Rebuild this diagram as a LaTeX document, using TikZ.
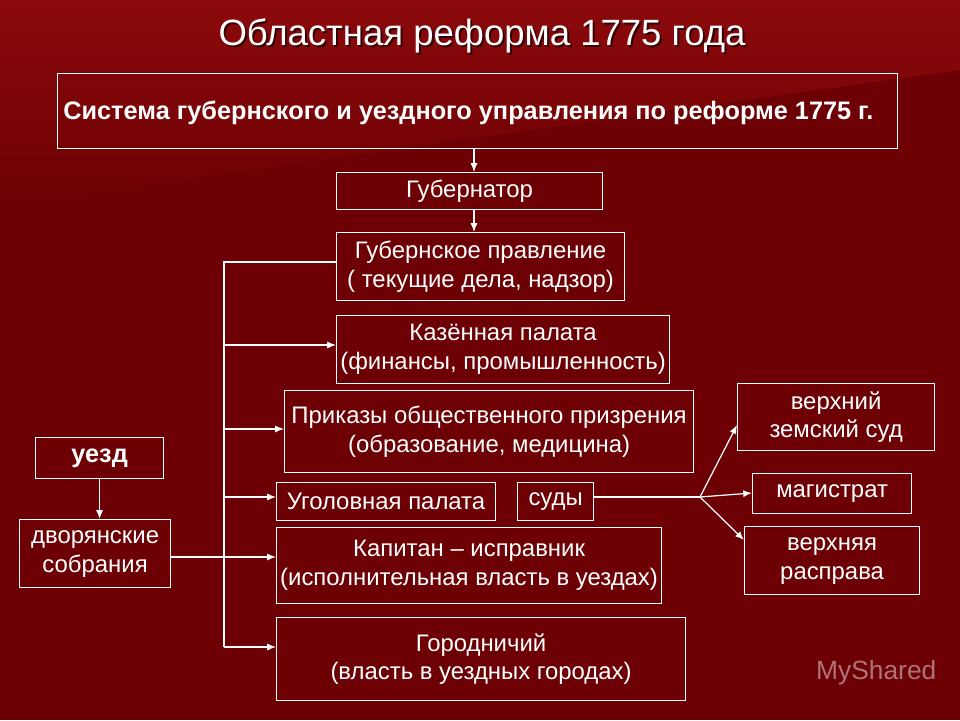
\documentclass[tikz,border=0pt]{standalone}
\usepackage{fontspec}
\setmainfont{Liberation Sans}
\usetikzlibrary{arrows.meta}
\definecolor{bgA}{RGB}{140,10,12}
\definecolor{bgB}{RGB}{108,0,4}
\tikzset{
 box/.style={draw=white,line width=0.7pt,text=white,align=center,font=\fontsize{13.6}{16.5}\selectfont,inner sep=0pt},
 conn/.style={draw=white,line width=0.7pt},
 arr/.style={conn,-{Latex[length=5pt,width=4pt]}}
}
\begin{document}
\begin{tikzpicture}[x=0.02cm,y=-0.02cm]
\useasboundingbox (0,0) rectangle (960,720);
\fill[bgB] (0,0) rectangle (960,720);
\shade[top color=bgA,bottom color=bgB] (0,0) -- (960,0) -- (960,70) -- (0,205) -- cycle;
\node[text=black,opacity=0.6,font=\fontsize{20.8}{22}\selectfont] (titles) at (484,38) {Областная реформа 1775 года};
\node[text=white,font=\fontsize{20.8}{22}\selectfont] (title) at (482,36) {Областная реформа 1775 года};
\node[box,anchor=north west,minimum width=16.8cm,minimum height=1.5cm] (main) at (57,73) {};
\node[text=white,font=\bfseries\fontsize{14.4}{16}\selectfont,anchor=west,inner sep=0pt] (maint) at (63,113) {Система губернского и уездного управления по реформе 1775 г.};
\node[box,anchor=north west,minimum width=5.32cm,minimum height=0.74cm] (gub) at (336,172) {Губернатор};
\node[box,anchor=north west,minimum width=5.76cm,minimum height=1.36cm] (gp) at (336,232) {Губернское правление\\( текущие дела, надзор)};
\node[box,anchor=north west,minimum width=6.66cm,minimum height=1.36cm] (kp) at (336,315) {Казённая палата\\(финансы, промышленность)};
\node[box,anchor=north west,minimum width=8.18cm,minimum height=1.64cm] (pr) at (284,390) {Приказы общественного призрения\\(образование, медицина)};
\node[box,anchor=north west,minimum width=4.38cm,minimum height=0.76cm] (ug) at (276,482) {Уголовная палата};
\node[box,anchor=north west,minimum width=1.52cm,minimum height=0.76cm] (sud) at (517,482) {суды};
\node[box,anchor=north west,minimum width=7.7cm,minimum height=1.52cm] (kap) at (276,527) {Капитан – исправник\\(исполнительная власть в уездах)};
\node[box,anchor=north west,minimum width=8.18cm,minimum height=1.66cm] (gor) at (276,617) {Городничий\\(власть в уездных городах)};
\node[box,anchor=north west,minimum width=2.56cm,minimum height=0.82cm,font=\bfseries\fontsize{14.4}{16}\selectfont] (uezd) at (35,437) {уезд};
\node[box,anchor=north west,minimum width=3.02cm,minimum height=1.36cm] (dvor) at (19,519) {дворянские\\собрания};
\node[box,anchor=north west,minimum width=3.94cm,minimum height=1.34cm] (vzs) at (737,383) {верхний\\земский суд};
\node[box,anchor=north west,minimum width=3.18cm,minimum height=0.8cm] (mag) at (752,473) {магистрат};
\node[box,anchor=north west,minimum width=3.5cm,minimum height=1.36cm] (vr) at (744,526) {верхняя\\расправа};
\node[text=white,opacity=0.45,font=\fontsize{15}{16}\selectfont,anchor=west] (ms) at (810,673) {MyShared};
\coordinate (top) at (224,262);
\coordinate (bot) at (224,647);
\coordinate (fork) at (700,497);
\draw[arr] (main.south -| 474,0) -- (gub.north -| 474,0);
\draw[arr] (gub.south -| 474,0) -- (gp.north -| 474,0);
\draw[conn] (gp.west |- top) -- (top) -- (bot);
\draw[arr] (224,345) -- (kp.west |- 0,345);
\draw[arr] (224,429) -- (pr.west |- 0,429);
\draw[arr] (224,497) -- (ug.west |- 0,497);
\draw[arr] (dvor.east |- 0,557) -- (kap.west |- 0,557);
\draw[arr] (bot) -- (gor.west |- bot);
\draw[arr] (uezd.south) -- (dvor.north -| uezd.south);
\draw[conn] (sud.east |- fork) -- (fork);
\draw[arr] (fork) -- (vzs.west |- 0,425);
\draw[arr] (fork) -- (mag.west |- 0,493);
\draw[arr] (fork) -- (vr.west |- 0,540);
\end{tikzpicture}
\end{document}
